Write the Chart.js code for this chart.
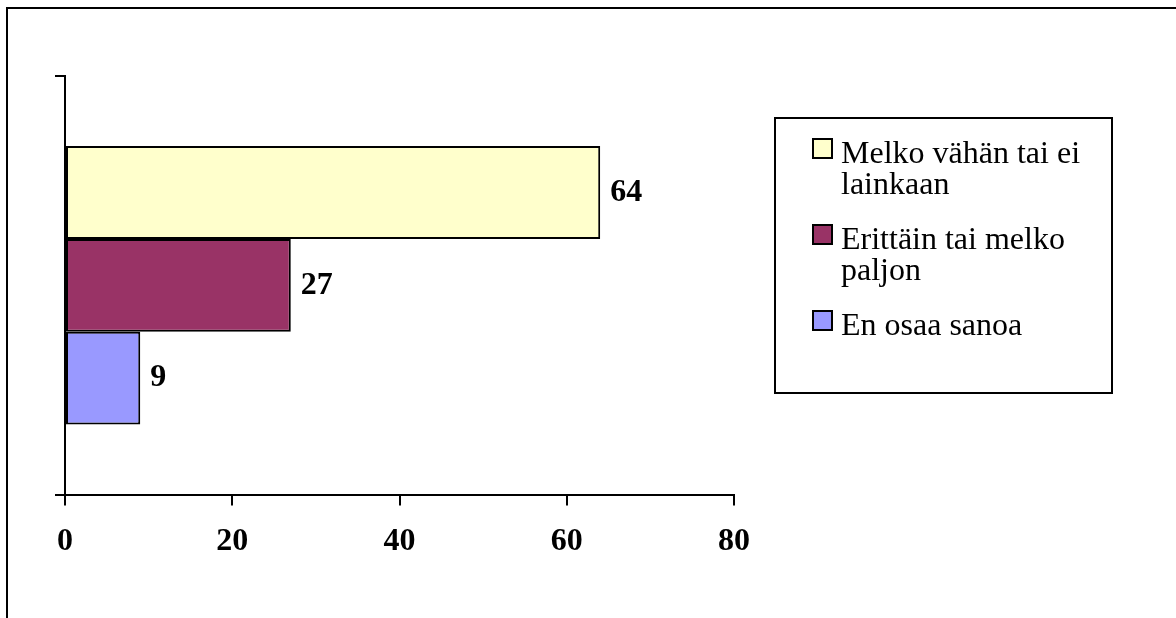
<!DOCTYPE html>
<html>
<head>
<meta charset="utf-8">
<script src="https://cdn.jsdelivr.net/npm/chart.js@4.4.1/dist/chart.umd.min.js"></script>
<style>
  html, body { margin: 0; padding: 0; background: #ffffff; overflow: hidden; }
  #wrap { position: relative; width: 1176px; height: 618px; }
  canvas { display: block; }
</style>
</head>
<body>
<div id="wrap"><canvas id="c" width="1176" height="618"></canvas></div>
<script>
// ---- data ----
const categories = [''];
const seriesLabels = ['Melko vähän tai ei lainkaan', 'Erittäin tai melko paljon', 'En osaa sanoa'];
const melkoVahan = [64];
const erittainPaljon = [27];
const enOsaa = [9];
const seriesColors = ['#FFFFCC', '#993366', '#9999FF'];
const xTicks = [0, 20, 40, 60, 80];

const FONT = '"Liberation Serif", "Times New Roman", serif';

const framePlugin = {
  id: 'frame',
  beforeDraw(chart) {
    const ctx = chart.ctx;
    ctx.save();
    ctx.fillStyle = '#ffffff';
    ctx.fillRect(0, 0, chart.width, chart.height);
    ctx.strokeStyle = '#000000';
    ctx.lineWidth = 2;
    ctx.beginPath();
    ctx.moveTo(7, chart.height + 5);
    ctx.lineTo(7, 8);
    ctx.lineTo(chart.width + 5, 8);
    ctx.stroke();
    ctx.restore();
  }
};

const valueLabelPlugin = {
  id: 'valueLabels',
  afterDatasetsDraw(chart) {
    const ctx = chart.ctx;
    ctx.save();
    ctx.font = 'bold 32px ' + FONT;
    ctx.fillStyle = '#000000';
    ctx.textAlign = 'left';
    ctx.textBaseline = 'middle';
    chart.data.datasets.forEach((ds, di) => {
      const meta = chart.getDatasetMeta(di);
      meta.data.forEach((el, i) => {
        ctx.fillText(String(ds.data[i]), el.x + 10, el.y);
      });
    });
    ctx.restore();
  }
};

function wrapText(ctx, text, maxW) {
  const words = text.split(' ');
  const lines = [];
  let cur = '';
  words.forEach(w => {
    const t = cur ? cur + ' ' + w : w;
    if (ctx.measureText(t).width > maxW && cur) {
      lines.push(cur);
      cur = w;
    } else {
      cur = t;
    }
  });
  if (cur) lines.push(cur);
  return lines;
}

const legendPlugin = {
  id: 'boxLegend',
  afterDraw(chart) {
    const ctx = chart.ctx;
    ctx.save();
    ctx.strokeStyle = '#000000';
    ctx.lineWidth = 2;
    ctx.strokeRect(775, 118, 337, 275);
    ctx.font = '32px ' + FONT;
    ctx.textBaseline = 'alphabetic';
    ctx.textAlign = 'left';
    let baseline = 163;
    chart.data.datasets.forEach((ds, di) => {
      const lines = wrapText(ctx, ds.label, 250);
      ctx.fillStyle = ds.backgroundColor;
      ctx.fillRect(813, baseline - 24, 19, 19);
      ctx.strokeStyle = '#000000';
      ctx.lineWidth = 2;
      ctx.strokeRect(813, baseline - 24, 19, 19);
      ctx.fillStyle = '#000000';
      lines.forEach((ln, li) => {
        ctx.fillText(ln, 841, baseline + li * 31);
      });
      baseline += (lines.length - 1) * 31 + 55;
    });
    ctx.restore();
  }
};

const datasets = [
  { label: seriesLabels[0], data: melkoVahan, backgroundColor: seriesColors[0] },
  { label: seriesLabels[1], data: erittainPaljon, backgroundColor: seriesColors[1] },
  { label: seriesLabels[2], data: enOsaa, backgroundColor: seriesColors[2] }
].map(d => Object.assign(d, {
  borderColor: '#000000',
  borderWidth: 2,
  borderSkipped: false,
  barPercentage: 1.0,
  categoryPercentage: 0.665
}));

new Chart(document.getElementById('c'), {
  type: 'bar',
  data: { labels: categories, datasets: datasets },
  options: {
    indexAxis: 'y',
    responsive: false,
    animation: false,
    devicePixelRatio: 1,
    layout: { padding: { left: 55, top: 76, right: 442, bottom: 40 } },
    plugins: {
      legend: { display: false },
      tooltip: { enabled: false }
    },
    scales: {
      x: {
        min: xTicks[0],
        max: xTicks[xTicks.length - 1],
        afterBuildTicks(scale) { scale.ticks = xTicks.map(v => ({ value: v })); },
        grid: { display: true, drawOnChartArea: false, drawTicks: true, tickLength: 11, color: '#000000', lineWidth: 2 },
        border: { display: true, color: '#000000', width: 2 },
        ticks: { color: '#000000', padding: 17, font: { family: FONT, size: 32, weight: 'bold' }, maxRotation: 0 }
      },
      y: {
        offset: true,
        grid: { display: true, offset: true, drawOnChartArea: false, drawTicks: true, tickLength: 10, color: '#000000', lineWidth: 2 },
        border: { display: true, color: '#000000', width: 2 },
        ticks: { display: false }
      }
    }
  },
  plugins: [framePlugin, valueLabelPlugin, legendPlugin]
});
</script>
</body>
</html>
